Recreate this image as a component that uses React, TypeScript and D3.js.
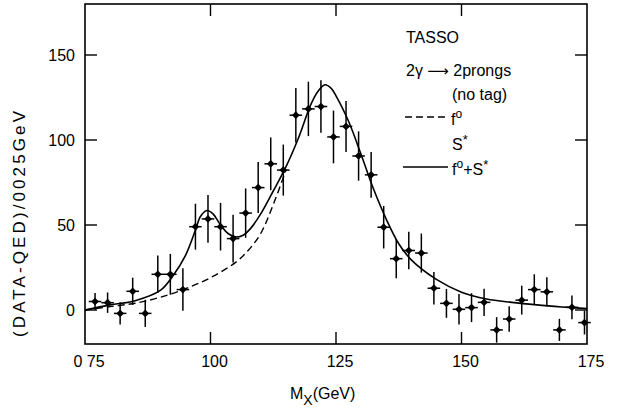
import React from 'react';
import * as d3 from 'd3';

// measured spectrum, bins of 0.025 GeV
const massBins = [0.77, 0.795, 0.82, 0.845, 0.87, 0.895, 0.92, 0.945, 0.97, 0.995,
  1.02, 1.045, 1.07, 1.095, 1.12, 1.145, 1.17, 1.195, 1.22, 1.245,
  1.27, 1.295, 1.32, 1.345, 1.37, 1.395, 1.42, 1.445, 1.47, 1.495,
  1.52, 1.545, 1.57, 1.595, 1.62, 1.645, 1.67, 1.695, 1.72, 1.745];
const counts = [5, 4.3, -2, 11, -2, 21, 21, 12, 49, 53.6,
  49, 42, 57, 72, 86, 82.3, 114.6, 118.3, 119.7, 101.8,
  108, 90.6, 79.5, 48.7, 30.2, 35, 33.5, 12.8, 3.9, 0.4,
  1.4, 4.5, -11.7, -5.3, 5.8, 12, 10.7, -11.7, 1.6, -7.4];
const countErrors = [5, 6, 6.5, 8, 8, 11, 12, 12.5, 13.5, 14,
  14, 14, 14.5, 15, 15.5, 15, 16, 16, 15.5, 15.5,
  15, 14.5, 13.5, 12.5, 11.5, 11, 11.5, 9.5, 8.5, 9,
  8.5, 8, 7.5, 7.5, 8.5, 9, 8.5, 6.5, 7, 7];

// f0 + S* fit (solid)
const fitMass = [0.75, 0.8, 0.85, 0.9, 0.925, 0.95, 0.97, 0.98, 0.993, 1.005, 1.02, 1.035,
  1.05, 1.065, 1.08, 1.1, 1.125, 1.15, 1.175, 1.2, 1.215, 1.228, 1.24, 1.25, 1.275,
  1.3, 1.325, 1.35, 1.375, 1.4, 1.45, 1.5, 1.55, 1.6, 1.65, 1.7, 1.75];
const fitTotal = [0, 3, 5.5, 11.5, 20, 32, 47, 55, 58.5, 56.5, 50, 45,
  43, 44, 48, 56.5, 70, 84, 101, 121, 129, 132.5, 130.5, 126, 111,
  91.5, 71, 53.5, 39, 29.5, 18, 10.5, 6.5, 4.5, 3, 1.8, 0.8];

// f0 alone (dashed), merges with the solid curve above ~1.15
const f0Mass = [0.75, 0.8, 0.85, 0.9, 0.95, 1.0, 1.05, 1.075, 1.1, 1.125, 1.15];
const f0Fit = [0, 2, 4, 7.5, 12.5, 19, 28, 35, 45, 62, 82];

const yTicks = [0, 50, 100, 150];
const xTicks = [0.75, 1.0, 1.25, 1.5, 1.75];
const xTickLabels = ['0 75', '100', '125', '150', '175'];

const width = 621;
const height = 418;
const font = '"Liberation Sans", Arial, sans-serif';

export default function App() {
  const x = d3.scaleLinear().domain([0.75, 1.75]).range([85, 587]);
  const y = d3.scaleLinear().domain([-20, 180]).range([344, 4]);

  const line = d3.line<[number, number]>()
    .x(d => x(d[0]))
    .y(d => y(d[1]))
    .curve(d3.curveCatmullRom.alpha(0.5));

  const solidPath = line(fitMass.map((m, i) => [m, fitTotal[i]]));
  const dashedPath = line(f0Mass.map((m, i) => [m, f0Fit[i]]));
  const marker = d3.symbol().type(d3.symbolSquare).size(30)();

  const [x0, x1] = x.range();
  const [y0, y1] = y.range();

  return (
    <svg width={width} height={height} style={{ position: 'absolute', left: 0, top: 0, background: '#fff' }}
      fontFamily={font}>
      {/* frame */}
      <rect x={x0} y={y1} width={x1 - x0} height={y0 - y1} fill="none" stroke="#000" strokeWidth={1.6} />

      {/* ticks, pointing inward on all sides */}
      {yTicks.map(t => (
        <g key={'y' + t}>
          <line x1={x0} x2={x0 + 12} y1={y(t)} y2={y(t)} stroke="#000" strokeWidth={1.4} />
          <line x1={x1} x2={x1 - 12} y1={y(t)} y2={y(t)} stroke="#000" strokeWidth={1.4} />
          <text x={75} y={y(t)} dy="0.36em" textAnchor="end" fontSize={16}>{t}</text>
        </g>
      ))}
      {xTicks.map((t, i) => (
        <g key={'x' + t}>
          {i > 0 && i < xTicks.length - 1 && (
            <>
              <line x1={x(t)} x2={x(t)} y1={y0} y2={y0 - 12} stroke="#000" strokeWidth={1.4} />
              <line x1={x(t)} x2={x(t)} y1={y1} y2={y1 + 12} stroke="#000" strokeWidth={1.4} />
            </>
          )}
          <text x={x(t) + 4} y={367} textAnchor="middle" fontSize={16}>{xTickLabels[i]}</text>
        </g>
      ))}

      {/* axis titles */}
      <text x={290} y={399} fontSize={16}>
        M<tspan dy={6} fontSize={14}>X</tspan><tspan dy={-6}>(GeV)</tspan>
      </text>
      <text transform="translate(25,224) rotate(-90)" textAnchor="middle" fontSize={17}
        textLength={226} lengthAdjust="spacing">(DATA-QED)/0025GeV</text>

      {/* curves */}
      <path d={dashedPath ?? ''} fill="none" stroke="#000" strokeWidth={1.4} strokeDasharray="7,4" />
      <path d={solidPath ?? ''} fill="none" stroke="#000" strokeWidth={1.6} />

      {/* data points with error bars */}
      {massBins.map((m, i) => (
        <g key={'p' + i}>
          <line x1={x(m)} x2={x(m)} y1={y(counts[i] - countErrors[i])} y2={y(counts[i] + countErrors[i])}
            stroke="#000" strokeWidth={1.5} />
          <line x1={x(m - 0.0125)} x2={x(m + 0.0125)} y1={y(counts[i])} y2={y(counts[i])}
            stroke="#000" strokeWidth={1.5} />
          <path d={marker ?? ''} transform={`translate(${x(m)},${y(counts[i])}) rotate(45)`} fill="#000" />
        </g>
      ))}

      {/* legend */}
      <g fontSize={16}>
        <text x={406} y={43}>TASSO</text>
        <text x={406} y={76}>2γ <tspan fontFamily="DejaVu Sans" fontSize={15}>⟶</tspan> 2prongs</text>
        <text x={452} y={100}>(no tag)</text>
        <line x1={405} x2={448} y1={117} y2={117} stroke="#000" strokeWidth={1.4} strokeDasharray="7,4" />
        <text x={451} y={125}>f<tspan dy={-7} fontSize={12}>o</tspan></text>
        <text x={452} y={150}>S<tspan dy={-6} fontSize={13}>*</tspan></text>
        <line x1={403} x2={448} y1={167} y2={167} stroke="#000" strokeWidth={1.6} />
        <text x={452} y={175}>f<tspan dy={-7} fontSize={12}>o</tspan><tspan dy={7}>+S</tspan><tspan dy={-6} fontSize={13}>*</tspan></text>
      </g>
    </svg>
  );
}
